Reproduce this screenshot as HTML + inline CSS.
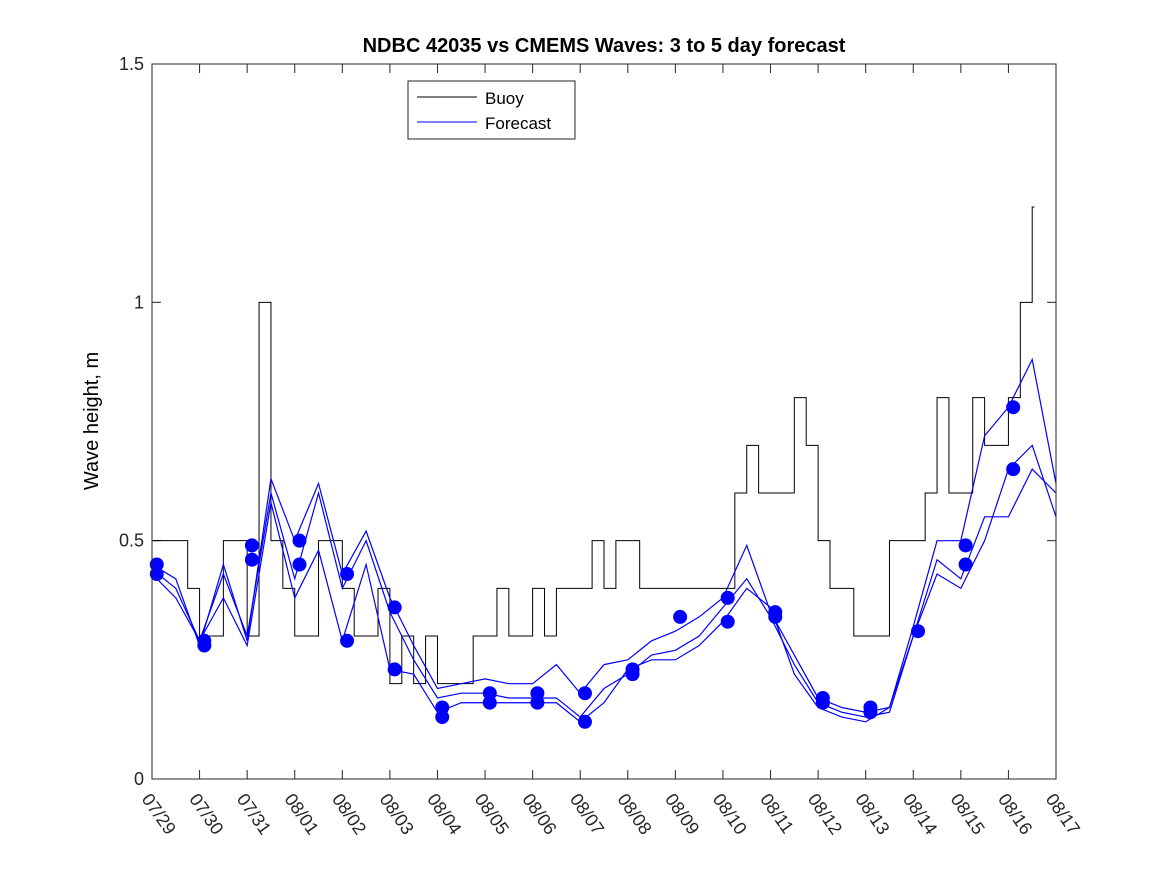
<!DOCTYPE html>
<html><head><meta charset="utf-8"><style>
body{margin:0;background:#fff}
svg text{font-family:"Liberation Sans",sans-serif}
</style></head><body>
<svg id="c" width="1167" height="875" xmlns="http://www.w3.org/2000/svg">
<rect width="1167" height="875" fill="#fff"/>
<text x="604" y="52" text-anchor="middle" font-size="20" font-weight="bold">NDBC 42035 vs CMEMS Waves: 3 to 5 day forecast</text>
<text transform="translate(98,421) rotate(-90)" text-anchor="middle" font-size="20">Wave height, m</text>
<g id="plot"></g>
<rect x="152" y="64" width="904" height="715" fill="none" stroke="#262626" stroke-width="1"/>
<g>
<rect x="408" y="81" width="167" height="58" fill="#fff" stroke="#262626"/>
<line x1="417" y1="97" x2="477" y2="97" stroke="#000"/>
<text x="485" y="104" font-size="17">Buoy</text>
<line x1="417" y1="122" x2="477" y2="122" stroke="#0000ff"/>
<text x="485" y="129" font-size="17">Forecast</text>
</g>
</svg>
<script>
const dateLabels=["07/29","07/30","07/31","08/01","08/02","08/03","08/04","08/05","08/06","08/07","08/08","08/09","08/10","08/11","08/12","08/13","08/14","08/15","08/16","08/17"];
const yTicks=[0,0.5,1,1.5];
const yTickLabels=["0","0.5","1","1.5"];
const buoy=[.5,.5,.5,.4, .3,.3,.5,.5, .3,1.0,.5,.4, .3,.3,.5,.5, .4,.3,.3,.4, .2,.3,.2,.3, .2,.2,.2,.3, .3,.4,.3,.3, .4,.3,.4,.4, .4,.5,.4,.5, .5,.4,.4,.4, .4,.4,.4,.4, .4,.6,.7,.6, .6,.6,.8,.7, .5,.4,.4,.3, .3,.3,.5,.5, .5,.6,.8,.6, .6,.8,.7,.7, .8,1.0,1.2];
const fc1=[.44,.40,.29,.43,.30,.60,.42,.60,.40,.50,.35,.25,.17,.18,.18,.17,.17,.17,.13,.19,.22,.26,.27,.30,.36,.42,.34,.24,.16,.14,.13,.14,.30,.46,.42,.55,.55,.65,.60];
const fc2=[.45,.42,.28,.45,.29,.63,.50,.62,.43,.52,.38,.28,.19,.20,.21,.20,.20,.24,.18,.24,.25,.29,.31,.34,.38,.49,.35,.26,.17,.15,.14,.15,.32,.50,.50,.72,.78,.88,.62];
const fc3=[.43,.38,.29,.38,.28,.58,.38,.48,.29,.45,.23,.22,.14,.16,.16,.16,.16,.16,.12,.16,.23,.25,.25,.28,.33,.40,.36,.22,.15,.13,.12,.15,.30,.43,.40,.50,.65,.70,.55];
const dotDays=[0.1,0.1,1.1,1.1,2.1,2.1,3.1,3.1,4.1,4.1,5.1,5.1,6.1,6.1,7.1,7.1,8.1,8.1,9.1,9.1,10.1,10.1,11.1,12.1,12.1,13.1,13.1,14.1,14.1,15.1,15.1,16.1,17.1,17.1,18.1,18.1];
const dotVals=[.45,.43,.29,.28,.49,.46,.50,.45,.43,.29,.36,.23,.15,.13,.18,.16,.18,.16,.18,.12,.23,.22,.34,.38,.33,.35,.34,.17,.16,.15,.14,.31,.49,.45,.78,.65];

const X0=152,X1=1056,Y0=779,Y1=64;
const xs=d=>X0+d*(X1-X0)/19;
const ys=v=>Y0-v*(Y0-Y1)/1.5;
const NS="http://www.w3.org/2000/svg";
const g=document.getElementById('plot');
function mk(t,a){const e=document.createElementNS(NS,t);for(const k in a)e.setAttribute(k,a[k]);g.appendChild(e);return e;}

yTicks.forEach((v,i)=>{
 const y=ys(v);
 const t1=mk('line',{x1:X0,y1:y,x2:X0+9,y2:y,stroke:'#262626'});
 
 
 const t2=mk('line',{x1:X1-9,y1:y,x2:X1,y2:y,stroke:'#262626'});
 
 
 const tx=mk('text',{x:X0-8,y:y+6,'text-anchor':'end','font-size':18,fill:'#262626'});
 tx.textContent=yTickLabels[i];
 
 
});
dateLabels.forEach((s,i)=>{
 const x=xs(i);
 const t1=mk('line',{x1:x,y1:Y0,x2:x,y2:Y0-9,stroke:'#262626'});
 
 
 const t2=mk('line',{x1:x,y1:Y1,x2:x,y2:Y1+9,stroke:'#262626'});
 
 
 const tx=mk('text',{x:0,y:0,'font-size':18,fill:'#262626',transform:`translate(${x-11},${Y0+20}) rotate(55)`});
 tx.textContent=s;
 
 
});

let p='',ly=0;
buoy.forEach((v,i)=>{const x=xs(i*0.25),y=ys(v);if(i===0)p=`M${x},${y}`;else p+=`L${x},${ly}L${x},${y}`;ly=y;});
p+=`L${xs(buoy.length*0.25-0.2)},${ly}`;
const bl=mk('path',{d:p,fill:'none',stroke:'#000','stroke-width':1});



[fc1,fc2,fc3].forEach((arr,k)=>{
 const d=arr.map((v,i)=>(i?'L':'M')+xs(i*0.5)+','+ys(v)).join('');
 const l=mk('path',{d:d,fill:'none',stroke:'#0000ff','stroke-width':1.2});
 
 
});
dotDays.forEach((d,i)=>{
 const c=mk('circle',{cx:xs(d),cy:ys(dotVals[i]),r:7,fill:'#0000ff'});
 
 
});
</script>
</body></html>
